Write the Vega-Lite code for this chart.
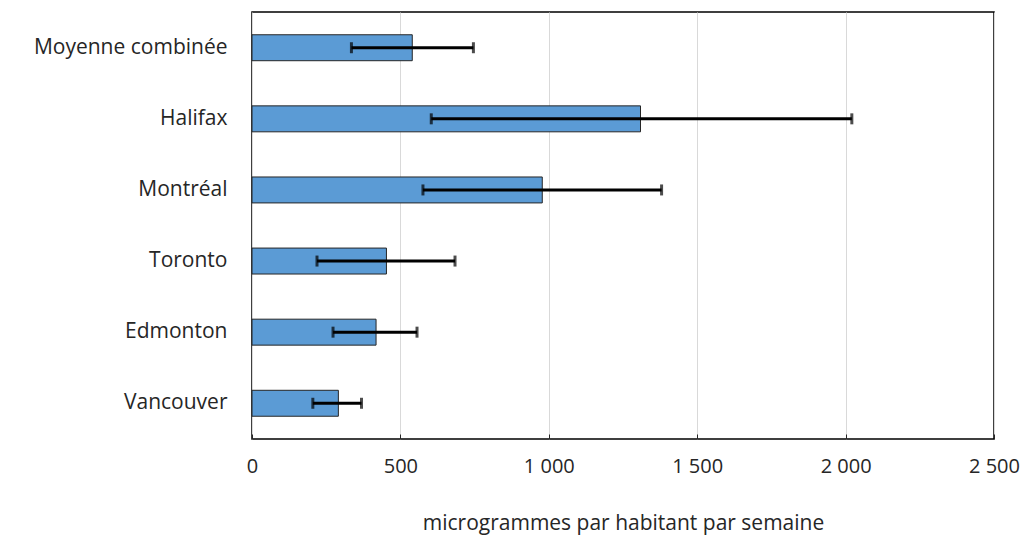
{
  "$schema": "https://vega.github.io/schema/vega-lite/v6.json",
  "width": 742,
  "height": 427,
  "autosize": "none",
  "padding": {"left": 252, "top": 12, "right": 30, "bottom": 98},
  "background": "white",
  "config": {
    "view": {"stroke": "#000000", "strokeWidth": 1.5},
    "font": "Open Sans"
  },
  "data": {
    "values": [
      {"ville": "Moyenne combinée", "valeur": 540, "bas": 335, "haut": 746},
      {"ville": "Halifax", "valeur": 1309, "bas": 604, "haut": 2021},
      {"ville": "Montréal", "valeur": 978, "bas": 576, "haut": 1380},
      {"ville": "Toronto", "valeur": 453, "bas": 219, "haut": 684},
      {"ville": "Edmonton", "valeur": 418, "bas": 273, "haut": 556},
      {"ville": "Vancouver", "valeur": 291, "bas": 205, "haut": 369}
    ]
  },
  "encoding": {
    "y": {
      "field": "ville",
      "type": "nominal",
      "sort": null,
      "scale": {"paddingInner": 0.635, "paddingOuter": 0.32},
      "axis": {
        "title": null,
        "domain": false,
        "ticks": false,
        "labelFontSize": 21,
        "labelColor": "#262626",
        "labelPadding": 25,
        "labelLimit": 300,
        "labelFont": "Open Sans"
      }
    }
  },
  "layer": [
    {
      "mark": {"type": "bar", "color": "#5B9BD5", "stroke": "#262626", "strokeWidth": 1},
      "encoding": {
        "x": {
          "field": "valeur",
          "type": "quantitative",
          "scale": {"domain": [0, 2500], "nice": false},
          "axis": {
            "values": [0, 500, 1000, 1500, 2000, 2500],
            "format": ",d",
            "labelExpr": "replace(datum.label, ',', ' ')",
            "labelFlush": false,
            "labelOverlap": false,
            "grid": true,
            "gridColor": "#d9d9d9",
            "gridWidth": 1,
            "domain": false,
            "tickColor": "#262626",
            "tickSize": -5,
            "labelFontSize": 20,
            "labelColor": "#262626",
            "labelPadding": 22,
            "title": "microgrammes par habitant par semaine",
            "titleFontSize": 21,
            "titleFontWeight": "normal",
            "titleColor": "#262626",
            "titlePadding": 36
          }
        }
      }
    },
    {
      "mark": {"type": "rule", "color": "#000000", "strokeWidth": 3},
      "encoding": {
        "x": {"field": "bas", "type": "quantitative"},
        "x2": {"field": "haut"}
      }
    },
    {
      "mark": {"type": "tick", "color": "#000000", "thickness": 3, "size": 11},
      "encoding": {
        "x": {"field": "bas", "type": "quantitative"}
      }
    },
    {
      "mark": {"type": "tick", "color": "#000000", "thickness": 3, "size": 11},
      "encoding": {
        "x": {"field": "haut", "type": "quantitative"}
      }
    }
  ]
}
